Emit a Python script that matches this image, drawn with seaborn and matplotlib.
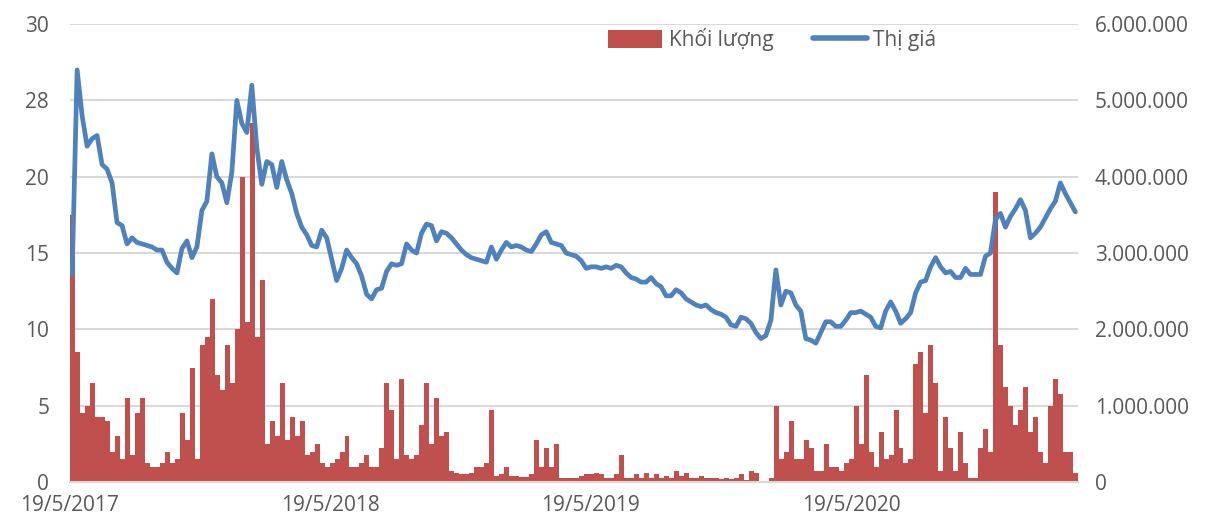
import pandas as pd
import numpy as np
import matplotlib
matplotlib.use("Agg")
import matplotlib.pyplot as plt
import seaborn as sns
from matplotlib.patches import Patch
from matplotlib.lines import Line2D
from matplotlib.ticker import FuncFormatter

sns.set_theme(style="white")
plt.rcParams['font.family'] = ['Open Sans', 'DejaVu Sans']

# weekly closing price (thousand VND)
price = [13.6, 27.0, 24.0, 22.0, 22.5, 22.7, 20.8, 20.5, 19.6, 17.0,
         16.8, 15.6, 16.0, 15.7, 15.6, 15.5, 15.4, 15.2, 15.2, 14.4,
         14.0, 13.7, 15.3, 15.8, 14.7, 15.4, 17.8, 18.4, 21.5, 20.0,
         19.6, 18.3, 20.3, 25.0, 23.5, 22.9, 26.0, 21.9, 19.5, 21.0,
         20.8, 19.3, 21.0, 19.8, 18.9, 17.6, 16.7, 16.2, 15.5, 15.4,
         16.5, 16.0, 14.6, 13.2, 14.0, 15.2, 14.7, 14.3, 13.5, 12.3,
         12.0, 12.6, 12.7, 13.8, 14.3, 14.2, 14.3, 15.6, 15.2, 15.0,
         16.3, 16.9, 16.8, 15.8, 16.4, 16.3, 16.0, 15.6, 15.2, 14.9,
         14.7, 14.6, 14.5, 14.4, 15.4, 14.6, 15.2, 15.7, 15.4, 15.5,
         15.4, 15.2, 15.1, 15.6, 16.2, 16.4, 15.7, 15.6, 15.5, 15.0,
         14.9, 14.8, 14.5, 14.0, 14.1, 14.1, 14.0, 14.1, 14.0, 14.2,
         14.1, 13.7, 13.4, 13.3, 13.1, 13.1, 13.4, 13.0, 12.8, 12.2,
         12.2, 12.6, 12.4, 12.0, 11.8, 11.6, 11.5, 11.6, 11.3, 11.1,
         11.0, 10.8, 10.3, 10.2, 10.8, 10.7, 10.4, 9.8, 9.4, 9.6,
         10.6, 13.9, 11.6, 12.5, 12.4, 11.6, 11.2, 9.4, 9.3, 9.1,
         9.8, 10.5, 10.5, 10.2, 10.2, 10.6, 11.1, 11.1, 11.2, 11.0,
         10.8, 10.2, 10.1, 11.2, 11.8, 11.2, 10.4, 10.7, 11.1, 12.4,
         13.1, 13.2, 14.1, 14.7, 14.1, 13.7, 13.8, 13.4, 13.4, 14.0,
         13.6, 13.6, 13.6, 14.8, 15.0, 17.2, 17.6, 16.7, 17.4, 17.9,
         18.5, 17.8, 16.0, 16.3, 16.7, 17.3, 17.9, 18.4, 19.6, 18.9,
         18.3, 17.7]

# weekly traded volume (million shares)
volume_m = [3.5, 1.7, 0.9, 1.0, 1.3, 0.85, 0.85, 0.8, 0.4, 0.6,
            0.3, 1.1, 0.35, 0.9, 1.1, 0.25, 0.2, 0.2, 0.25, 0.4,
            0.25, 0.3, 0.9, 0.55, 1.5, 0.3, 1.8, 1.9, 2.4, 1.4,
            1.2, 1.8, 1.3, 2.0, 4.0, 2.1, 4.7, 1.9, 2.65, 0.5,
            0.8, 0.6, 1.3, 0.55, 0.85, 0.6, 0.8, 0.35, 0.4, 0.5,
            0.25, 0.2, 0.25, 0.3, 0.4, 0.6, 0.2, 0.2, 0.25, 0.35,
            0.2, 0.2, 0.45, 1.3, 0.95, 0.3, 1.35, 0.35, 0.3, 0.35,
            0.75, 1.3, 0.5, 1.1, 0.6, 0.65, 0.15, 0.12, 0.1, 0.1,
            0.12, 0.2, 0.2, 0.25, 0.95, 0.08, 0.1, 0.2, 0.08, 0.08,
            0.07, 0.07, 0.1, 0.55, 0.2, 0.45, 0.2, 0.5, 0.05, 0.05,
            0.05, 0.05, 0.08, 0.1, 0.1, 0.12, 0.1, 0.05, 0.05, 0.1,
            0.35, 0.05, 0.05, 0.1, 0.05, 0.12, 0.05, 0.1, 0.05, 0.08,
            0.05, 0.15, 0.08, 0.12, 0.05, 0.06, 0.08, 0.05, 0.05, 0.05,
            0.04, 0.05, 0.04, 0.05, 0.1, 0.03, 0.15, 0.12, 0.02, 0.02,
            0.05, 1.0, 0.3, 0.4, 0.8, 0.3, 0.3, 0.55, 0.45, 0.15,
            0.15, 0.5, 0.2, 0.2, 0.15, 0.25, 0.3, 1.0, 0.5, 1.4,
            0.4, 0.2, 0.65, 0.3, 0.35, 0.95, 0.45, 0.25, 0.3, 1.55,
            1.7, 0.9, 1.8, 1.3, 0.15, 0.85, 0.45, 0.15, 0.65, 0.25,
            0.05, 0.05, 0.45, 0.7, 0.4, 3.8, 1.8, 1.25, 1.0, 0.75,
            0.95, 1.25, 0.65, 0.85, 0.4, 0.25, 1.0, 1.35, 1.15, 0.4,
            0.4, 0.12]

tick_dates = ["2017-05-19", "2018-05-19", "2019-05-19", "2020-05-19"]
tick_labels = ["19/5/2017", "19/5/2018", "19/5/2019", "19/5/2020"]
left_ticks = [0, 5, 10, 15, 20, 25, 30]
left_labels = ["0", "5", "10", "15", "20", "28", "30"]

volume = [v * 1e6 for v in volume_m]
dates = pd.date_range("2017-05-19", periods=len(price), freq="7D")

grey = "#595959"
fs = 15
fig = plt.figure(figsize=(12.28, 5.24), dpi=100)
ax = fig.add_axes([0.057, 0.080, 0.821, 0.874])

# volume bars on the bottom axes (right scale)
ax.bar(dates, volume, width=7, align="edge", color="#C0504D", linewidth=0)
ax.set_ylim(0, 6e6)
ax.set_yticks(np.arange(0, 6.5e6, 1e6))
ax.yaxis.set_major_formatter(FuncFormatter(lambda v, p: f"{int(v):,}".replace(",", ".")))
ax.yaxis.grid(True, color="#D9D9D9", linewidth=1.5)
ax.set_axisbelow(True)

# price line on the twin axes (left scale)
ax2 = ax.twinx()
sns.lineplot(x=dates + pd.Timedelta(days=3), y=price, ax=ax2, color="#4F81BD", linewidth=3.4)
ax2.set_ylim(0, 30)
ax2.set_yticks(left_ticks)
ax2.set_yticklabels(left_labels)
ax2.grid(False)

# swap sides: volume scale on the right, price scale on the left
ax.yaxis.tick_right()
ax2.yaxis.tick_left()

ax.set_xlim(pd.Timestamp("2017-05-19"), pd.Timestamp("2017-05-19") + pd.Timedelta(days=1414))
ax.set_xticks(pd.to_datetime(tick_dates))
ax.set_xticklabels(tick_labels)

for a in (ax, ax2):
    for s in a.spines.values():
        s.set_visible(False)
ax.spines["bottom"].set_visible(True)
ax.spines["bottom"].set_color("#D9D9D9")
ax.spines["bottom"].set_linewidth(1.5)

ax.tick_params(axis="x", colors="#D9D9D9", labelcolor=grey, labelsize=fs, length=6, width=1.2, pad=3, direction="out")
ax.tick_params(axis="y", labelcolor=grey, labelsize=fs, length=0, pad=12)
ax2.tick_params(axis="y", labelcolor=grey, labelsize=fs, length=0, pad=15)
ax.set_xlabel("")
ax.set_ylabel("")
ax2.set_ylabel("")

handles = [Patch(facecolor="#C0504D", edgecolor="none", label="Khối lượng"),
           Line2D([0], [0], color="#4F81BD", linewidth=4, solid_capstyle="round", label="Thị giá")]
fig.legend(handles=handles, loc="center", bbox_to_anchor=(0.629, 0.924), ncol=2, frameon=False,
           fontsize=fs, handlelength=2.6, handleheight=0.9, columnspacing=1.9, handletextpad=0.3,
           labelcolor=grey)

fig.savefig("out.png", dpi=100)
